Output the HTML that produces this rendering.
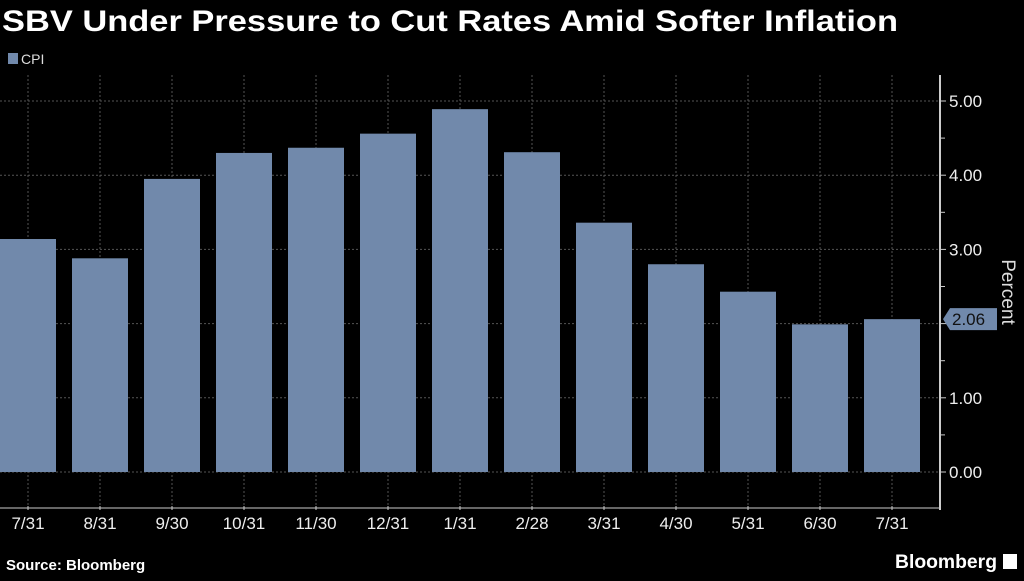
<!DOCTYPE html>
<html><head><meta charset="utf-8"><style>
body{margin:0;background:#000;width:1024px;height:576px;overflow:hidden;font-family:"Liberation Sans",sans-serif;}
</style></head><body>
<svg id="c" width="1024" height="576" xmlns="http://www.w3.org/2000/svg">
<text x="2" y="31" fill="#fff" font-size="30" font-weight="bold" textLength="896" lengthAdjust="spacingAndGlyphs">SBV Under Pressure to Cut Rates Amid Softer Inflation</text>
<rect x="8" y="53" width="10" height="11" fill="#7189ab"/>
<text x="21" y="64" fill="#ddd" font-size="14">CPI</text>
<g id="grid"></g><g id="bars"></g><g id="axes"></g>
<text x="6" y="570" fill="#fff" font-size="15" font-weight="bold">Source: Bloomberg</text>
<text x="895" y="568" fill="#fff" font-size="19" font-weight="bold" textLength="102" lengthAdjust="spacingAndGlyphs">Bloomberg</text>
<rect x="1003" y="554" width="14" height="15" fill="#fff"/>
<text fill="#ddd" font-size="19" transform="rotate(90 1002 292)" text-anchor="middle"><tspan x="1002" y="292">Percent</tspan></text>
</svg>
<script>
const categories=["7/31","8/31","9/30","10/31","11/30","12/31","1/31","2/28","3/31","4/30","5/31","6/30","7/31"];
const cpiValues=[3.14,2.88,3.95,4.30,4.37,4.56,4.89,4.31,3.36,2.80,2.43,1.99,2.06];
const yTicks=[0,1,2,3,4,5];
const yTickLabels=["0.00","1.00","2.00","3.00","4.00","5.00"];
const NS="http://www.w3.org/2000/svg";
const y=v=>472-v*74.2;
const x=i=>28+i*72;
function mk(t,a,p){const e=document.createElementNS(NS,t);for(const k in a)e.setAttribute(k,a[k]);p.appendChild(e);return e;}
const grid=document.getElementById('grid'),bars=document.getElementById('bars'),axes=document.getElementById('axes');
const last=cpiValues[cpiValues.length-1],ly=y(last);
yTicks.forEach((v,i)=>{
 const g=mk('line',{x1:0,x2:940,y1:y(v),y2:y(v),stroke:'#555','stroke-dasharray':'2,2'},grid);
 
 
 const tk=mk('line',{x1:940,x2:946,y1:y(v),y2:y(v),stroke:'#ccc'},axes);
 
 
 if(Math.abs(y(v)-ly)>16){
 const t=mk('text',{x:949,y:y(v)+6,fill:'#eee','font-size':17},axes);t.textContent=yTickLabels[i];
 
 }
 if(i<yTicks.length-1){const m=mk('line',{x1:940,x2:945,y1:y(v+0.5),y2:y(v+0.5),stroke:'#ccc'},axes);
 
 }
});
categories.forEach((c,i)=>{
 const g=mk('line',{x1:x(i),x2:x(i),y1:75,y2:508,stroke:'#555','stroke-dasharray':'2,2'},grid);
 
 
 const b=mk('rect',{x:x(i)-28,y:y(cpiValues[i]),width:56,height:y(0)-y(cpiValues[i]),fill:'#7189ab'},bars);
 
 
 const tk=mk('line',{x1:x(i),x2:x(i),y1:506,y2:510,stroke:'#ccc'},axes);
 
 
 const t=mk('text',{x:x(i),y:529,fill:'#eee','font-size':17,'text-anchor':'middle'},axes);t.textContent=c;
 
 
});
const xa=mk('line',{x1:0,x2:940,y1:508,y2:508,stroke:'#ccc'},axes);


const ya=mk('line',{x1:940,x2:940,y1:75,y2:510,stroke:'#ccc','stroke-width':2},axes);


const tag=mk('path',{d:`M943 ${ly} L950 ${ly-11} L997 ${ly-11} L997 ${ly+11} L950 ${ly+11} Z`,fill:'#7189ab'},axes);


const tt=mk('text',{x:952,y:ly+6,fill:'#111','font-size':17},axes);tt.textContent=last.toFixed(2);


</script>
</body></html>
